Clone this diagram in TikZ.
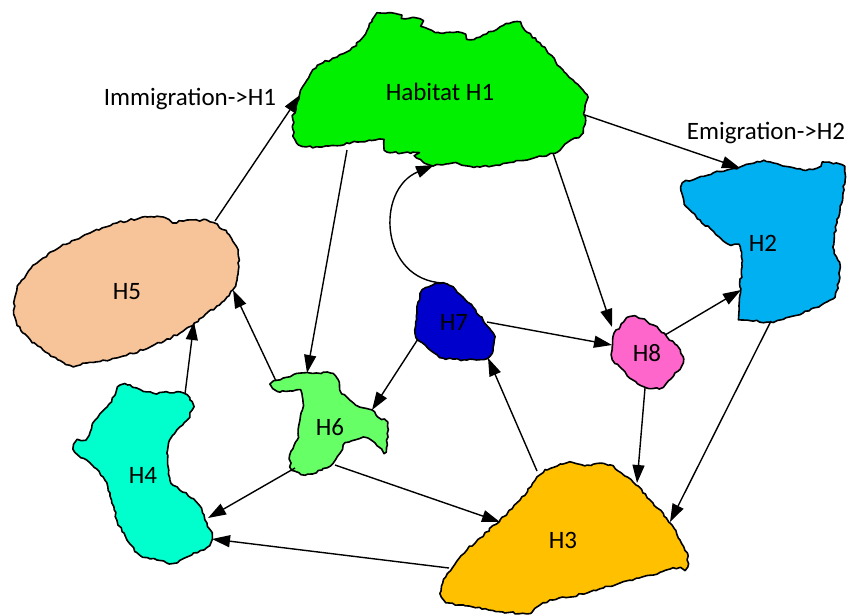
\documentclass[tikz,border=0pt]{standalone}
\usepackage{fontspec}
\setmainfont{Carlito}
\usetikzlibrary{arrows.meta,decorations.pathmorphing}

\definecolor{hOne}{HTML}{00F000}
\definecolor{hTwo}{HTML}{00B0F0}
\definecolor{hThree}{HTML}{FFC000}
\definecolor{hFour}{HTML}{00FFCC}
\definecolor{hFive}{HTML}{F7C399}
\definecolor{hSix}{HTML}{66FF66}
\definecolor{hSeven}{HTML}{0000CC}
\definecolor{hEight}{HTML}{FF66CC}

\tikzset{
  blob/.style={draw=black, line width=1.6pt, line join=round,
    decorate, decoration={random steps, segment length=3.5pt, amplitude=1.1pt}},
  lbl/.style={font=\fontsize{25}{30}\selectfont, inner sep=0pt},
  link/.style={line width=1.4pt, -{Triangle[length=18pt,width=12pt]}},
}

\begin{document}
\pgfmathsetseed{7}
\begin{tikzpicture}[x=1pt,y=-1pt]
\useasboundingbox (0,0) rectangle (850,614);

% habitat H1
\path[blob, fill=hOne] plot[smooth cycle, tension=0.45] coordinates {
  (378,14) (397,14) (398,18) (420,19) (422,26) (440,33) (462,33) (467,39)
  (480,37) (500,27) (517,22) (527,32) (540,43) (560,67) (573,80) (587,95)
  (585,110) (583,133) (567,143) (557,152) (537,157) (507,163) (480,167)
  (453,163) (430,165) (417,158) (417,153) (387,152) (383,140) (357,142)
  (320,147) (297,143) (293,120) (300,93) (307,80) (313,70) (323,63)
  (337,57) (350,50) (363,37) (372,20)};
% habitat H2
\path[blob, fill=hTwo] plot[smooth cycle, tension=0.45] coordinates {
  (740,167) (760,162) (770,162) (803,170) (817,168) (823,163) (842,165)
  (845,173) (843,193) (840,210) (837,223) (833,247) (840,267) (837,290)
  (830,300) (803,313) (780,320) (767,322) (747,320) (740,317) (740,287)
  (742,267) (740,247) (727,243) (700,220) (687,207) (682,193) (683,183)
  (697,178) (713,173) (727,170)};
% habitat H5
\path[blob, fill=hFive] plot[smooth cycle, tension=0.6] coordinates {
  (15,297) (20,283) (37,263) (60,247) (90,233) (117,223) (147,217)
  (163,217) (173,222) (193,220) (210,222) (227,233) (238,253) (237,280)
  (227,297) (203,317) (180,333) (150,347) (120,357) (87,363) (70,365)
  (43,350) (23,333) (15,317)};
% habitat H4
\path[blob, fill=hFour] plot[smooth cycle, tension=0.45] coordinates {
  (118,387) (127,385) (153,393) (180,392) (190,400) (193,407) (187,420)
  (177,430) (170,440) (167,453) (170,480) (177,487) (197,503) (207,523)
  (212,535) (207,547) (187,557) (173,563) (157,560) (140,555) (127,540)
  (117,520) (110,493) (103,477) (90,463) (75,452) (75,443) (87,438)
  (93,423) (107,407) (115,395)};
% habitat H6
\path[blob, fill=hSix] plot[smooth cycle, tension=0.35] coordinates {
  (273,383) (280,380) (303,373) (330,373) (338,380) (340,390) (348,398)
  (360,407) (372,410) (378,417) (387,423) (386,452) (375,443) (367,438)
  (355,440) (345,443) (340,453) (333,463) (322,470) (305,475) (292,470)
  (290,455) (297,440) (300,420) (303,403) (300,390) (280,392) (273,388)};
% habitat H7
\path[blob, fill=hSeven] plot[smooth cycle, tension=0.5] coordinates {
  (423,290) (433,285) (443,283) (453,287) (463,297) (473,307) (483,320)
  (493,333) (493,350) (487,358) (467,360) (443,358) (430,350) (418,340)
  (415,330) (417,313) (420,297)};
% habitat H8
\path[blob, fill=hEight] plot[smooth cycle, tension=0.5] coordinates {
  (627,318) (637,317) (653,325) (667,337) (680,350) (683,363) (675,373)
  (663,387) (647,388) (633,380) (620,367) (612,357) (613,337) (620,327)};
% habitat H3
\path[blob, fill=hThree] plot[smooth cycle, tension=0.45] coordinates {
  (537,477) (547,470) (567,463) (587,465) (610,465) (633,482) (653,503)
  (670,523) (680,540) (687,553) (687,567) (673,568) (653,575) (620,583)
  (587,593) (553,600) (537,607) (530,613) (503,612) (473,607) (450,603)
  (442,597) (443,583) (453,567) (467,550) (480,538) (500,520) (520,500)};

% labels
\node[lbl] (h1) at (440,92) {Habitat H1};
\node[lbl] (h2) at (763,243) {H2};
\node[lbl] (h3) at (563,540) {H3};
\node[lbl] (h4) at (143,475) {H4};
\node[lbl] (h5) at (127,292) {H5};
\node[lbl] (h6) at (330,427) {H6};
\node[lbl] (h7) at (454,322) {H7};
\node[lbl] (h8) at (647,353) {H8};
\node[lbl] (imm) at (190,99) {Immigration->H1};
\node[lbl] (emi) at (766,133) {Emigration->H2};

% connector end points on the habitat borders
\coordinate (h1w) at (300,95);
\coordinate (h1e) at (585,115);
\coordinate (h1sw) at (347,150);
\coordinate (h1se) at (553,153);
\coordinate (h1s) at (434,165);
\coordinate (h2n) at (740,168);
\coordinate (h2w) at (741,290);
\coordinate (h2s) at (771,321);
\coordinate (h3n) at (637,483);
\coordinate (h3e) at (670,522);
\coordinate (h3nw) at (537,471);
\coordinate (h3w) at (500,522);
\coordinate (h3l) at (449,568);
\coordinate (h4e) at (208,518);
\coordinate (h4se) at (212,539);
\coordinate (h4n) at (185,394);
\coordinate (h5ne) at (215,221);
\coordinate (h5s) at (194,322);
\coordinate (h5e) at (233,290);
\coordinate (h6n) at (307,373);
\coordinate (h6ne) at (372,410);
\coordinate (h6nw) at (276,381);
\coordinate (h6se) at (335,465);
\coordinate (h6s) at (295,468);
\coordinate (h7n) at (443,283);
\coordinate (h7e) at (487,322);
\coordinate (h7sw) at (418,339);
\coordinate (h7s) at (488,358);
\coordinate (h8n) at (612,327);
\coordinate (h8w) at (612,345);
\coordinate (h8ne) at (665,335);
\coordinate (h8s) at (645,388);

% migration links
\draw[link] (h5ne) -- (h1w);
\draw[link] (h1e) -- (h2n);
\draw[link] (h1sw) -- (h6n);
\draw[link] (h1se) -- (h8n);
\draw[link] (h7n) .. controls (380,280) and (375,190) .. (h1s);
\draw[link] (h7e) -- (h8w);
\draw[link] (h8ne) -- (h2w);
\draw[link] (h8s) -- (h3n);
\draw[link] (h2s) -- (h3e);
\draw[link] (h7sw) -- (h6ne);
\draw[link] (h3nw) -- (h7s);
\draw[link] (h6se) -- (h3w);
\draw[link] (h6s) -- (h4e);
\draw[link] (h3l) -- (h4se);
\draw[link] (h4n) -- (h5s);
\draw[link] (h6nw) -- (h5e);
\end{tikzpicture}
\end{document}
